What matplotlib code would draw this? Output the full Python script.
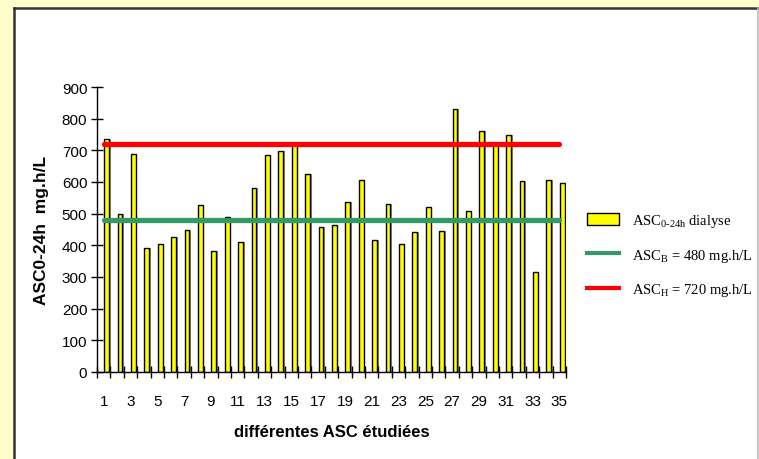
import matplotlib
matplotlib.use("Agg")
import matplotlib.pyplot as plt
from matplotlib.patches import Rectangle
from matplotlib.lines import Line2D
import numpy as np

# ASC values
samples = list(range(1, 36))
asc_values = [737, 499, 688, 391, 405, 427, 450, 526, 383, 491,
              410, 581, 684, 697, 722, 625, 459, 463, 536, 607,
              418, 531, 405, 441, 522, 446, 832, 509, 760, 718,
              747, 603, 316, 607, 598]
asc_low = 480
asc_high = 720
tick_labels = [str(i) for i in range(1, 36, 2)]

plt.rcParams['font.family'] = ['Liberation Sans', 'DejaVu Sans']
plt.rcParams['mathtext.fontset'] = 'custom'
plt.rcParams['mathtext.rm'] = 'Liberation Serif'
plt.rcParams['mathtext.it'] = 'Liberation Serif'

fig = plt.figure(figsize=(7.59, 4.60), dpi=100)
fig.patch.set_facecolor('#FFFFCC')

# white chart area with its border
fig.patches.append(Rectangle((13 / 759, -0.01), 1.0, 1 - 9 / 460 + 0.01,
                             transform=fig.transFigure, facecolor='white',
                             edgecolor='none', zorder=-10))
fig.add_artist(Line2D([13.5 / 759, 13.5 / 759], [0, 1 - 8.5 / 460],
                      transform=fig.transFigure, color='#333333', lw=1.8, zorder=-5))
fig.add_artist(Line2D([13.5 / 759, 1], [1 - 8.5 / 460, 1 - 8.5 / 460],
                      transform=fig.transFigure, color='#333333', lw=1.8, zorder=-5))
fig.add_artist(Line2D([757.5 / 759, 757.5 / 759], [0, 1 - 8.5 / 460],
                      transform=fig.transFigure, color='#BBBBBB', lw=1.2, zorder=-5))

ax = fig.add_axes([97 / 759, 1 - 373 / 460, 469 / 759, 285 / 460])
ax.set_facecolor('none')

x = np.array(samples)
bar_x = x + 0.22
# shadow behind bars
ax.bar(bar_x + 0.12, asc_values, width=0.36, color='#8C8C8C', linewidth=0, zorder=1)
ax.bar(bar_x, asc_values, width=0.36, color='#FFFF00', edgecolor='black',
       linewidth=1.0, zorder=2)

ax.plot([x[0], x[-1]], [asc_low, asc_low], color='#339966', lw=3.8,
        solid_capstyle='round', zorder=3)
ax.plot([x[0], x[-1]], [asc_high, asc_high], color='#FF0000', lw=3.8,
        solid_capstyle='round', zorder=3)

ax.set_xlim(0.5, 35.5)
ax.set_ylim(0, 900)
ax.set_yticks(range(0, 901, 100))
ax.set_xticks(range(1, 36, 2))
ax.set_xticklabels(tick_labels)
ax.set_xticks(np.arange(0.5, 36, 1), minor=True)

for s in ['top', 'right']:
    ax.spines[s].set_visible(False)
for s in ['left', 'bottom']:
    ax.spines[s].set_linewidth(1.0)
    ax.spines[s].set_color('black')

ax.tick_params(axis='y', direction='inout', length=8, width=1, labelsize=11, pad=3)
ax.tick_params(axis='x', which='major', length=0, labelsize=11, pad=15.5)
ax.tick_params(axis='x', which='minor', direction='inout', length=8, width=1)

ax.set_xlabel('différentes ASC étudiées', fontsize=12, fontweight='bold', labelpad=12)
ax.set_ylabel('ASC0-24h  mg.h/L', fontsize=12.5, fontweight='bold', labelpad=9)

handles = [Rectangle((0, 0), 1, 1, facecolor='#FFFF00', edgecolor='black', lw=1),
           Line2D([], [], color='#339966', lw=3),
           Line2D([], [], color='#FF0000', lw=3)]
labels = ['ASC$_{\\mathrm{0\u201024h}}$ dialyse',
          'ASC$_{\\mathrm{B}}$ = 480 mg.h/L',
          'ASC$_{\\mathrm{H}}$ = 720 mg.h/L']
fig.legend(handles, labels, loc='upper left', bbox_to_anchor=(574 / 759, 1 - 200 / 460),
           frameon=False, prop={'family': 'Liberation Serif', 'size': 10.5},
           handlelength=2.2, handleheight=0.8, handletextpad=0.9, labelspacing=1.2)

fig.savefig('out.png', dpi=100, facecolor=fig.get_facecolor())
